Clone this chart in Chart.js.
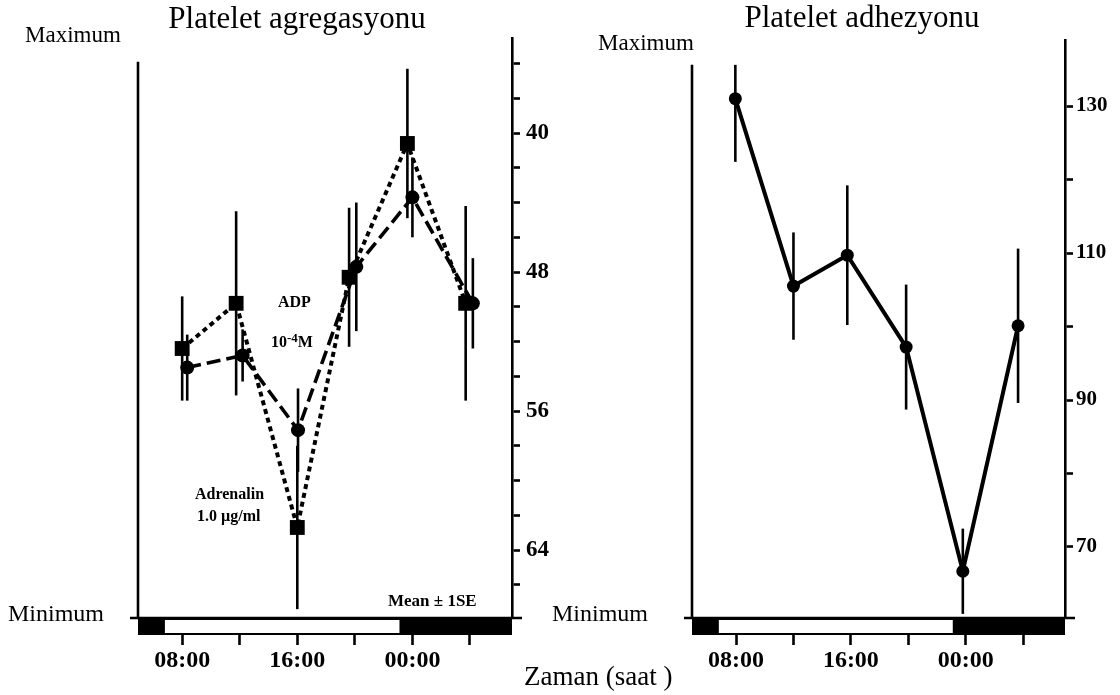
<!DOCTYPE html>
<html>
<head>
<meta charset="utf-8">
<script src="https://cdn.jsdelivr.net/npm/chart.js@4.4.1/dist/chart.umd.min.js"></script>
<style>
  html, body { margin: 0; padding: 0; background: #fff; }
  #wrap { position: relative; width: 1120px; height: 695px; overflow: hidden;
          font-family: "Liberation Serif", "Times New Roman", serif; color: #000; }
  .pane { position: absolute; top: 0; width: 560px; height: 695px; }
  .lbl { position: absolute; white-space: nowrap; line-height: 1; }
  .title { font-size: 31px; width: 400px; text-align: center; }
  .side { font-size: 23px; }
  .note { font-size: 16px; font-weight: bold; }
  sup { font-size: 13px; vertical-align: 5px; }
</style>
</head>
<body>
<div id="wrap">
  <div class="pane" style="left:0"><canvas id="agg" width="560" height="695"></canvas></div>
  <div class="pane" style="left:560px"><canvas id="adh" width="560" height="695"></canvas></div>

  <div class="lbl title" style="left:97px; top:2px;">Platelet agregasyonu</div>
  <div class="lbl title" style="left:662px; top:1px;">Platelet adhezyonu</div>
  <div class="lbl side" style="left:25px; top:23px;">Maximum</div>
  <div class="lbl side" style="left:598px; top:31px;">Maximum</div>
  <div class="lbl side" style="left:8px; top:601px; font-size:24px;">Minimum</div>
  <div class="lbl side" style="left:552px; top:601px; font-size:24px;">Minimum</div>
  <div class="lbl" style="left:524px; top:663px; font-size:27px;">Zaman (saat )</div>
  <div class="lbl note" style="left:388px; top:592px; font-size:17px;">Mean ± 1SE</div>
  <div class="lbl note" style="left:278px; top:294px;">ADP</div>
  <div class="lbl note" style="left:271px; top:331px;">10<sup>-4</sup>M</div>
  <div class="lbl note" style="left:195px; top:486px;">Adrenalin</div>
  <div class="lbl note" style="left:197px; top:508px;">1.0 µg/ml</div>
</div>

<script>
// Time axis (hours from midnight, running past 24 into the next day)
const hourMin = 4.93, hourMax = 30.92;
const hourTicks  = [8, 12, 16, 20, 24, 28];
const hourLabels = ["08:00", "", "16:00", "", "00:00", ""];
const lightsOn   = [6.8, 23.1];   // white part of the light/dark bar

// Platelet aggregation (reversed scale)
const aggTickValues = [36, 38, 40, 42, 44, 46, 48, 50, 52, 54, 56, 58, 60, 62, 64, 66];
const aggTickLabels = [40, 48, 56, 64];
const adrHours  = [8.0, 11.75, 16.0, 19.6, 23.65, 27.7];
const adrValues = [52.4, 49.8, 62.7, 48.3, 40.6, 49.8];
const adrErr    = [3.0, 5.3, 4.7, 4.0, 4.3, 5.6];
const adpHours  = [8.35, 12.2, 16.05, 20.1, 24.0, 28.2];
const adpValues = [53.5, 52.8, 57.1, 47.7, 43.7, 49.8];
const adpErr    = [1.9, 1.5, 2.4, 3.7, 2.3, 2.6];

// Platelet adhesion
const adhTickValues = [70, 80, 90, 100, 110, 120, 130];
const adhTickLabels = [70, 90, 110, 130];
const adhHours  = [7.95, 12.0, 15.75, 19.85, 23.8, 27.65];
const adhValues = [131.0, 105.5, 109.7, 97.2, 66.7, 100.1];
const adhErr    = [8.6, 7.3, 9.5, 8.5, 5.8, 10.5];

const FONT = "'Liberation Serif', 'Times New Roman', serif";
const pts = (xs, ys) => xs.map((x, i) => ({ x, y: ys[i] }));

// Error bars under the marks, then the left frame line, baseline and light/dark bar.
const frame = {
  id: "frame",
  beforeDatasetsDraw(chart, args, o) {
    const ctx = chart.ctx, xs = chart.scales.x, ys = chart.scales.y;
    const clip = ys.getPixelForValue(o.frameTop);
    ctx.save();
    ctx.strokeStyle = "#000";
    ctx.lineWidth = 2.6;
    chart.data.datasets.forEach(ds => {
      (ds.errors || []).forEach((e, i) => {
        const p = ds.data[i];
        const px = xs.getPixelForValue(p.x);
        const a = ys.getPixelForValue(p.y - e), b = ys.getPixelForValue(p.y + e);
        ctx.beginPath();
        ctx.moveTo(px, Math.max(Math.min(a, b), clip));
        ctx.lineTo(px, Math.max(a, b));
        ctx.stroke();
      });
    });
    ctx.restore();
  },
  afterDraw(chart, args, o) {
    const ctx = chart.ctx, { left, right, bottom } = chart.chartArea;
    const xs = chart.scales.x, ys = chart.scales.y;
    ctx.save();
    ctx.strokeStyle = "#000";
    ctx.lineWidth = 2.6;
    ctx.beginPath();
    ctx.moveTo(left, ys.getPixelForValue(o.frameTop));
    ctx.lineTo(left, bottom);
    ctx.stroke();
    ctx.beginPath();
    ctx.moveTo(left - 8, bottom);
    ctx.lineTo(right + 10, bottom);
    ctx.stroke();
    ctx.fillStyle = "#000";
    ctx.fillRect(left, bottom, right - left, 17);
    const x0 = xs.getPixelForValue(o.light[0]), x1 = xs.getPixelForValue(o.light[1]);
    ctx.fillStyle = "#fff";
    ctx.fillRect(x0, bottom + 2, x1 - x0, 13);
    ctx.restore();
  }
};

function buildChart(canvas, cfg) {
  return new Chart(canvas, {
    type: "scatter",
    data: { datasets: cfg.datasets },
    options: {
      responsive: false,
      animation: false,
      devicePixelRatio: 1,
      layout: { padding: cfg.padding },
      plugins: {
        legend: { display: false },
        tooltip: { enabled: false },
        frame: { frameTop: cfg.frameTop, light: lightsOn }
      },
      scales: {
        x: {
          type: "linear", min: hourMin, max: hourMax,
          afterBuildTicks: s => { s.ticks = hourTicks.map(v => ({ value: v })); },
          afterFit: s => { s.height = 55; },
          grid: { drawOnChartArea: false, tickLength: 27, tickWidth: 2.6, tickColor: "#000" },
          border: { display: false },
          ticks: {
            color: "#000", padding: 1, maxRotation: 0, autoSkip: false,
            font: { family: FONT, size: 24, weight: "bold" },
            callback: v => hourLabels[hourTicks.indexOf(v)] ?? ""
          }
        },
        y: {
          type: "linear", position: "right", reverse: cfg.reverse,
          min: cfg.min, max: cfg.max,
          afterBuildTicks: s => { s.ticks = cfg.tickValues.map(v => ({ value: v })); },
          afterFit: s => { s.width = cfg.axisWidth; },
          grid: { drawOnChartArea: false, tickLength: 8, tickWidth: 2.6, tickColor: "#000" },
          border: { display: true, color: "#000", width: 2.6 },
          ticks: {
            color: "#000", padding: cfg.labelPad, autoSkip: false,
            font: { family: FONT, size: cfg.labelSize, weight: "bold" },
            callback: v => cfg.tickLabels.includes(v) ? String(v) : ""
          }
        }
      }
    },
    plugins: [frame]
  });
}

buildChart(document.getElementById("agg"), {
  padding: { left: 138, right: 3, top: 38, bottom: 22 },
  reverse: true, min: 34.53, max: 67.91, frameTop: 35.9,
  tickValues: aggTickValues, tickLabels: aggTickLabels,
  axisWidth: 45, labelPad: 6, labelSize: 23,
  datasets: [
    {
      label: "ADP 10-4 M", data: pts(adpHours, adpValues), errors: adpErr,
      showLine: true, borderColor: "#000", backgroundColor: "#000",
      borderWidth: 3.6, borderDash: [14, 6],
      pointStyle: "circle", pointRadius: 7, pointBorderWidth: 0
    },
    {
      label: "Adrenalin 1.0 µg/ml", data: pts(adrHours, adrValues), errors: adrErr,
      showLine: true, borderColor: "#000", backgroundColor: "#000",
      borderWidth: 4, borderDash: [5, 4],
      pointStyle: "rect", pointRadius: 10.5, pointBorderWidth: 0
    }
  ]
});

buildChart(document.getElementById("adh"), {
  padding: { left: 132, right: 5, top: 40, bottom: 22 },
  reverse: false, min: 60.34, max: 138.98, frameTop: 135.6,
  tickValues: adhTickValues, tickLabels: adhTickLabels,
  axisWidth: 50, labelPad: 3, labelSize: 21,
  datasets: [
    {
      label: "Adhezyon", data: pts(adhHours, adhValues), errors: adhErr,
      showLine: true, borderColor: "#000", backgroundColor: "#000",
      borderWidth: 4, pointStyle: "circle", pointRadius: 6.5, pointBorderWidth: 0
    }
  ]
});
</script>
</body>
</html>
